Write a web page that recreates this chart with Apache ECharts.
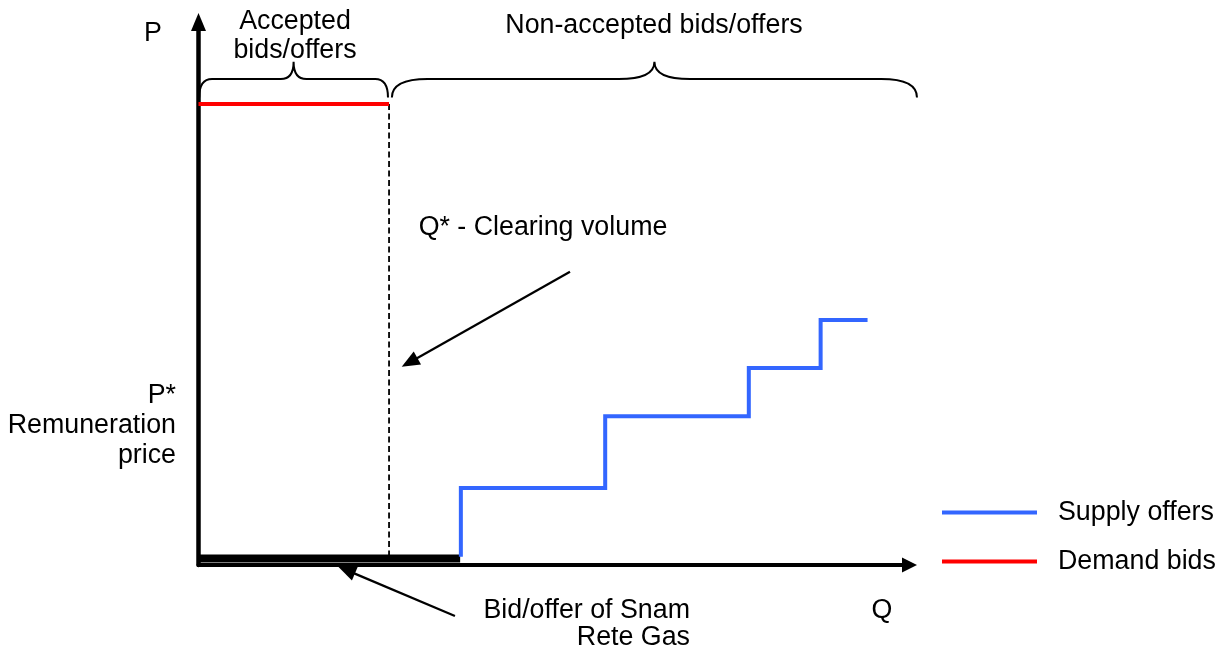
<!DOCTYPE html>
<html>
<head>
<meta charset="utf-8">
<script src="https://cdn.jsdelivr.net/npm/echarts@6/dist/echarts.min.js"></script>
<style>
  html, body { margin: 0; padding: 0; background: #ffffff; }
  #chart { width: 1225px; height: 660px; }
</style>
</head>
<body>
<div id="chart"></div>
<script>
// ---- data (schematic units: Q on x, P on y, axes run 0..100) ----
const seriesNames = ['Supply offers', 'Demand bids'];
const demandQ = [0, 26.8];          // demand bid segment
const demandP = 84.9;
const clearingQ = 26.8;             // Q* clearing volume
const snamQ = [0, 36.8];            // bid/offer of Snam Rete Gas
const snamP = 1.2;
const supplyQ = [36.9, 57.2, 77.4, 87.5, 94.1];   // step edges
const supplyP = [1.5, 14.2, 27.4, 36.3, 45.1];    // start level, then step levels
const braceRanges = [[0.1, 26.65], [27.2, 101.05]];
const braceP = [86.1, 89.5, 92.7];  // end, bar, tip levels
const arrows = [[52.25, 54.0, 28.58, 36.5], [36.07, -9.4, 19.66, -0.3]];

const FONT = '"Liberation Sans", Arial, sans-serif';
const FS = 26.8;
const BLUE = '#3366FF';
const RED = '#FF0000';

const supplyPts = [[supplyQ[0], supplyP[0]]];
for (let i = 1; i < supplyQ.length; i++) {
  supplyPts.push([supplyQ[i - 1], supplyP[i]]);
  supplyPts.push([supplyQ[i], supplyP[i]]);
}

function txt(text, x, y, align, lh) {
  return {
    type: 'text', x: x, y: y, silent: true,
    style: {
      text: text, fill: '#000', font: FS + 'px ' + FONT,
      textAlign: align, textVerticalAlign: 'middle', lineHeight: lh || 30
    }
  };
}

const chart = echarts.init(document.getElementById('chart'), null, { renderer: 'canvas' });
chart.setOption({
  animation: false,
  backgroundColor: '#ffffff',
  grid: { left: 198.5, top: 22, right: 315.5, bottom: 95 },
  xAxis: {
    type: 'value', min: 0, max: 100,
    axisLine: { show: true, onZero: false, symbol: ['none', 'triangle'], symbolSize: [15, 15],
      lineStyle: { color: '#000', width: 4 } },
    axisTick: { show: false }, axisLabel: { show: false }, splitLine: { show: false }
  },
  yAxis: {
    type: 'value', min: 0, max: 100,
    axisLine: { show: true, onZero: false, symbol: ['none', 'triangle'], symbolSize: [15, 18],
      lineStyle: { color: '#000', width: 4.5 } },
    axisTick: { show: false }, axisLabel: { show: false }, splitLine: { show: false }
  },
  legend: {
    data: seriesNames, orient: 'vertical', left: 942, top: 499,
    padding: 0, itemGap: 22, itemWidth: 95, itemHeight: 4, icon: 'rect',
    selectedMode: false,
    textStyle: { fontFamily: FONT, fontSize: FS, color: '#000', lineHeight: 26, padding: [0, 0, 0, 16] }
  },
  series: [
    {
      name: 'Clearing', type: 'line', silent: true, showSymbol: false, z: 1,
      data: [[clearingQ, demandP], [clearingQ, snamP]],
      lineStyle: { color: '#000', width: 1.8, type: [6, 3.5] }
    },
    {
      name: 'Snam', type: 'line', silent: true, showSymbol: false, z: 2,
      data: [[snamQ[0], snamP], [snamQ[1], snamP]],
      lineStyle: { color: '#000', width: 8, cap: 'butt' }
    },
    {
      name: seriesNames[0], type: 'line', silent: true, showSymbol: false, z: 3,
      data: supplyPts, color: BLUE, itemStyle: { color: BLUE },
      lineStyle: { color: BLUE, width: 4, join: 'miter' }
    },
    {
      name: seriesNames[1], type: 'line', silent: true, showSymbol: false, z: 3,
      data: [[demandQ[0], demandP], [demandQ[1], demandP]], color: RED, itemStyle: { color: RED },
      lineStyle: { color: RED, width: 4 }
    },
    {
      name: 'Braces', type: 'custom', silent: true, clip: false, z: 4,
      data: braceRanges,
      renderItem: function (params, api) {
        const a = api.coord([api.value(0), braceP[0]]);
        const b = api.coord([api.value(1), braceP[1]]);
        const t = api.coord([0, braceP[2]]);
        const x1 = a[0], x2 = b[0], yE = a[1], yH = b[1], yT = t[1];
        const xm = (x1 + x2) / 2;
        const r = 0.068 * (x2 - x1);
        const d = 'M' + x1 + ',' + yE + ' Q' + x1 + ',' + yH + ' ' + (x1 + r) + ',' + yH +
          ' L' + (xm - r) + ',' + yH + ' Q' + xm + ',' + yH + ' ' + xm + ',' + yT +
          ' Q' + xm + ',' + yH + ' ' + (xm + r) + ',' + yH +
          ' L' + (x2 - r) + ',' + yH + ' Q' + x2 + ',' + yH + ' ' + x2 + ',' + yE;
        return { type: 'path', shape: { pathData: d },
          style: { fill: 'none', stroke: '#000', lineWidth: 2 } };
      }
    },
    {
      name: 'Arrows', type: 'custom', silent: true, clip: false, z: 4,
      data: arrows,
      renderItem: function (params, api) {
        const s = api.coord([api.value(0), api.value(1)]);
        const e = api.coord([api.value(2), api.value(3)]);
        const dx = e[0] - s[0], dy = e[1] - s[1];
        const len = Math.sqrt(dx * dx + dy * dy);
        const ux = dx / len, uy = dy / len;
        const hl = 18, hw = 7.5;
        const bx = e[0] - ux * hl, by = e[1] - uy * hl;
        return {
          type: 'group',
          children: [
            { type: 'line', shape: { x1: s[0], y1: s[1], x2: bx + ux * 2, y2: by + uy * 2 },
              style: { stroke: '#000', lineWidth: 2.2 } },
            { type: 'polygon', shape: { points: [[e[0], e[1]],
                [bx - uy * hw, by + ux * hw], [bx + uy * hw, by - ux * hw]] },
              style: { fill: '#000' } }
          ]
        };
      }
    }
  ],
  graphic: [
    txt('P', 153, 34, 'center'),
    txt('Accepted\nbids/offers', 295, 36, 'center', 29.5),
    txt('Non-accepted bids/offers', 654, 26, 'center'),
    txt('Q* - Clearing volume', 543, 228, 'center'),
    txt('P*\nRemuneration\nprice', 176, 426, 'right', 30),
    txt('Bid/offer of Snam\nRete Gas', 690, 624, 'right', 27.5),
    txt('Q', 882, 611, 'center')
  ]
});
</script>
</body>
</html>
